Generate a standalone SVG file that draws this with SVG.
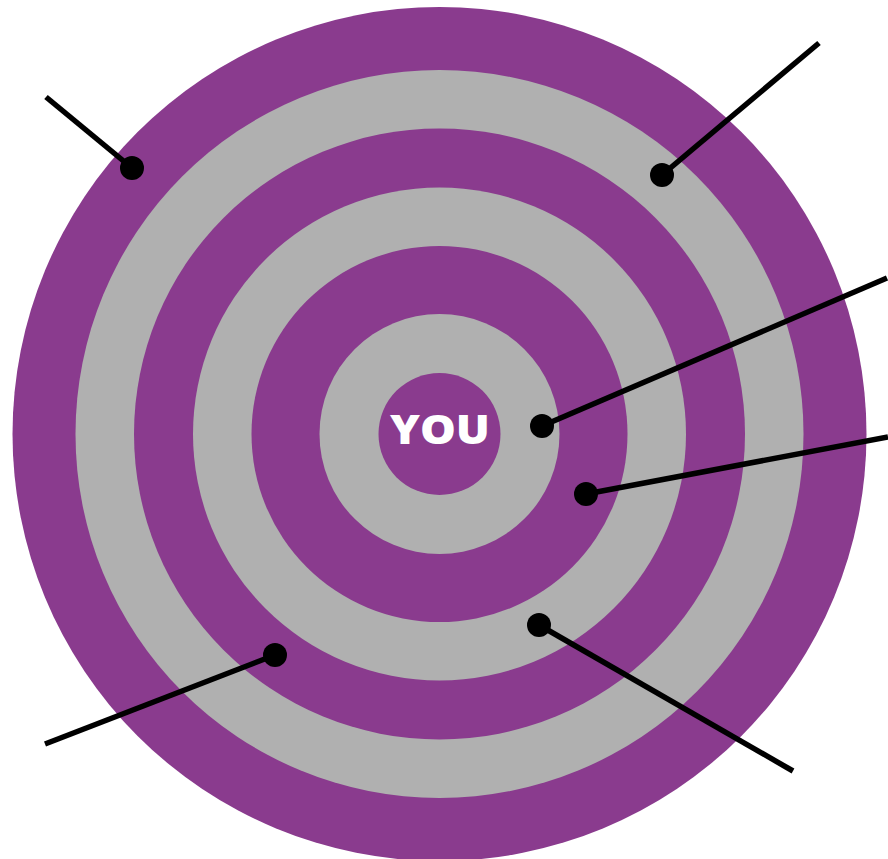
<svg xmlns="http://www.w3.org/2000/svg" width="888" height="859" viewBox="0 0 888 859">
<style>
.p{fill:#8A3B8E}
.g{fill:#B0B0B0}
.ln{stroke:#000;stroke-width:5.5;fill:none}
.dot{fill:#000}
.lbl{font-family:"Open Sans","Liberation Sans",sans-serif;font-weight:800;font-size:41px;fill:#fff}
</style>
<rect width="888" height="859" fill="#fff"/>
<g id="target">
<circle class="p" cx="439.5" cy="434" r="427"/>
<circle class="g" cx="439.5" cy="434" r="364"/>
<circle class="p" cx="439.5" cy="434" r="305.5"/>
<circle class="g" cx="439.5" cy="434" r="246.5"/>
<circle class="p" cx="439.5" cy="434" r="188"/>
<circle class="g" cx="439.5" cy="434" r="120"/>
<circle class="p" cx="439.5" cy="434" r="61"/>
</g>
<g id="you">
<text class="lbl" x="440" y="444" text-anchor="middle" textLength="100" lengthAdjust="spacingAndGlyphs">YOU</text>
</g>
<g id="connectors">
<line class="ln" x1="46" y1="97" x2="132" y2="168"/>
<line class="ln" x1="819" y1="43" x2="662" y2="175"/>
<line class="ln" x1="887" y1="278" x2="542" y2="426"/>
<line class="ln" x1="888" y1="437" x2="586" y2="494"/>
<line class="ln" x1="45" y1="744" x2="275" y2="655"/>
<line class="ln" x1="793" y1="771" x2="539" y2="625"/>
<circle class="dot" cx="132" cy="168" r="12"/>
<circle class="dot" cx="662" cy="175" r="12"/>
<circle class="dot" cx="542" cy="426" r="12"/>
<circle class="dot" cx="586" cy="494" r="12"/>
<circle class="dot" cx="275" cy="655" r="12"/>
<circle class="dot" cx="539" cy="625" r="12"/>
</g>
</svg>
